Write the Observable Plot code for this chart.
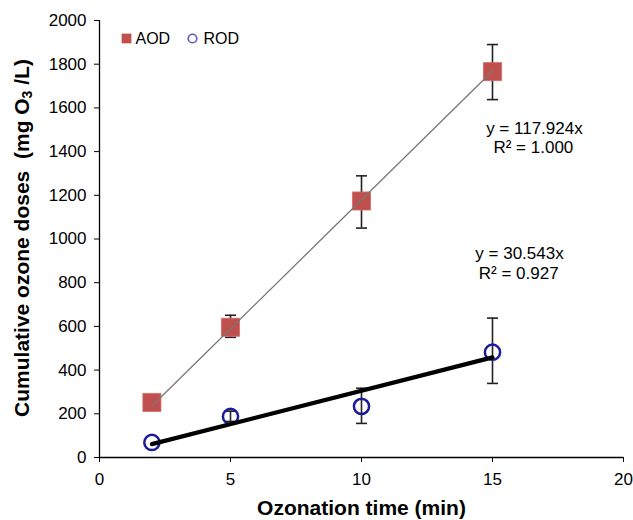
<!DOCTYPE html>
<html>
<head>
<meta charset="utf-8">
<script src="https://cdn.jsdelivr.net/npm/d3@7"></script>
<script src="https://cdn.jsdelivr.net/npm/@observablehq/plot@0.6"></script>
<style>
  html, body { margin: 0; padding: 0; background: #fff; }
</style>
</head>
<body>
<div id="chart"></div>
<script>
// ---- data ----
const times = [2, 5, 10, 15];
const aod = [252, 596, 1174, 1766];
const aodLo = [null, 550, 1050, 1638];
const aodHi = [null, 651, 1289, 1890];
const rod = [69, 188, 234, 482];
const rodLo = [null, 165, 156, 339];
const rodHi = [null, 212, 317, 638];
const fitX = [2, 15];
const aodSlope = 117.924;
const rodSlope = 30.543;
const xTicks = [0, 5, 10, 15, 20];
const yTicks = [0, 200, 400, 600, 800, 1000, 1200, 1400, 1600, 1800, 2000];
const aodEq = ["y = 117.924x", "R² = 1.000"];
const rodEq = ["y = 30.543x", "R² = 0.927"];
const seriesNames = ["AOD", "ROD"];

const RED = "#c0504d";
const BLUE = "#1c1c9a";

const aodData = times.map((t, i) => ({x: t, y: aod[i], lo: aodLo[i], hi: aodHi[i]}));
const rodData = times.map((t, i) => ({x: t, y: rod[i], lo: rodLo[i], hi: rodHi[i]}));
const errData = [...aodData, ...rodData].filter(d => d.lo != null);
const aodFit = fitX.map(x => ({x, y: aodSlope * x}));
const rodFit = fitX.map(x => ({x, y: rodSlope * x}));

const capSymbol = {
  draw(context, size) {
    const w = Math.sqrt(size / Math.PI);
    context.moveTo(-w, 0);
    context.lineTo(w, 0);
  }
};

const chart = Plot.plot({
  width: 633,
  height: 520,
  marginLeft: 99,
  marginRight: 10,
  marginTop: 20,
  marginBottom: 63,
  style: {fontFamily: "'Liberation Sans', Arial, sans-serif", fontSize: "17px", color: "#000", background: "#fff"},
  x: {domain: [0, 20], ticks: xTicks, tickSize: 5, tickPadding: 10, label: null},
  y: {domain: [0, 2000], ticks: yTicks, tickSize: 5, tickPadding: 8, tickFormat: d => String(d), label: null},
  marks: [
    Plot.ruleX([0], {stroke: "#000", strokeWidth: 1.3}),
    Plot.ruleY([0], {stroke: "#000", strokeWidth: 1.3}),
    // error bars
    Plot.ruleX(errData, {x: "x", y1: "lo", y2: "hi", stroke: "#222", strokeWidth: 1.6}),
    Plot.dot(errData, {x: "x", y: "lo", symbol: capSymbol, r: 5.5, stroke: "#222", strokeWidth: 1.6}),
    Plot.dot(errData, {x: "x", y: "hi", symbol: capSymbol, r: 5.5, stroke: "#222", strokeWidth: 1.6}),
    // markers
    Plot.dot(aodData, {x: "x", y: "y", symbol: "square", r: 10.2, fill: RED, stroke: "#d06a68", strokeWidth: 0.8}),
    Plot.dot(rodData, {x: "x", y: "y", r: 7.6, fill: "none", stroke: BLUE, strokeWidth: 2.5}),
    // fit lines
    Plot.line(aodFit, {x: "x", y: "y", stroke: "#777", strokeWidth: 1.3}),
    Plot.line(rodFit, {x: "x", y: "y", stroke: "#000", strokeWidth: 4.2}),
    // equations
    Plot.text([aodEq[0]], {text: d => d, x: 16.6, y: 1506, fontSize: 17}),
    Plot.text([aodEq[1]], {text: d => d, x: 16.56, y: 1419, fontSize: 17}),
    Plot.text([rodEq[0]], {text: d => d, x: 16.03, y: 934, fontSize: 17}),
    Plot.text([rodEq[1]], {text: d => d, x: 16.0, y: 842, fontSize: 17}),
    // legend
    Plot.dot([0], {frameAnchor: "top-left", dx: 27, dy: 18, symbol: "square", r: 5.5, fill: RED}),
    Plot.text([seriesNames[0]], {text: d => d, frameAnchor: "top-left", dx: 36, dy: 18, textAnchor: "start", lineAnchor: "middle", fontSize: 16}),
    Plot.dot([0], {frameAnchor: "top-left", dx: 93, dy: 18, r: 4.3, fill: "none", stroke: "#5a5ac4", strokeWidth: 1.6}),
    Plot.text([seriesNames[1]], {text: d => d, frameAnchor: "top-left", dx: 104, dy: 18, textAnchor: "start", lineAnchor: "middle", fontSize: 16}),
    // x label
    Plot.text(["Ozonation time (min)"], {text: d => d, frameAnchor: "bottom", dy: 51, lineAnchor: "middle", fontSize: 21, fontWeight: "bold"})
  ]
});

document.getElementById("chart").appendChild(chart);

// y-axis label with subscript
const svg = d3.select(chart);
const yl = svg.append("text")
  .attr("transform", "translate(23,238) rotate(-90)")
  .attr("text-anchor", "middle")
  .attr("dominant-baseline", "middle")
  .attr("font-size", 21)
  .attr("font-weight", "bold")
  .attr("fill", "#000");
yl.append("tspan").text("Cumulative ozone doses  (mg O");
yl.append("tspan").attr("font-size", 14).attr("dy", 5).text("3");
yl.append("tspan").attr("dy", -5).text(" /L)");
</script>
</body>
</html>
